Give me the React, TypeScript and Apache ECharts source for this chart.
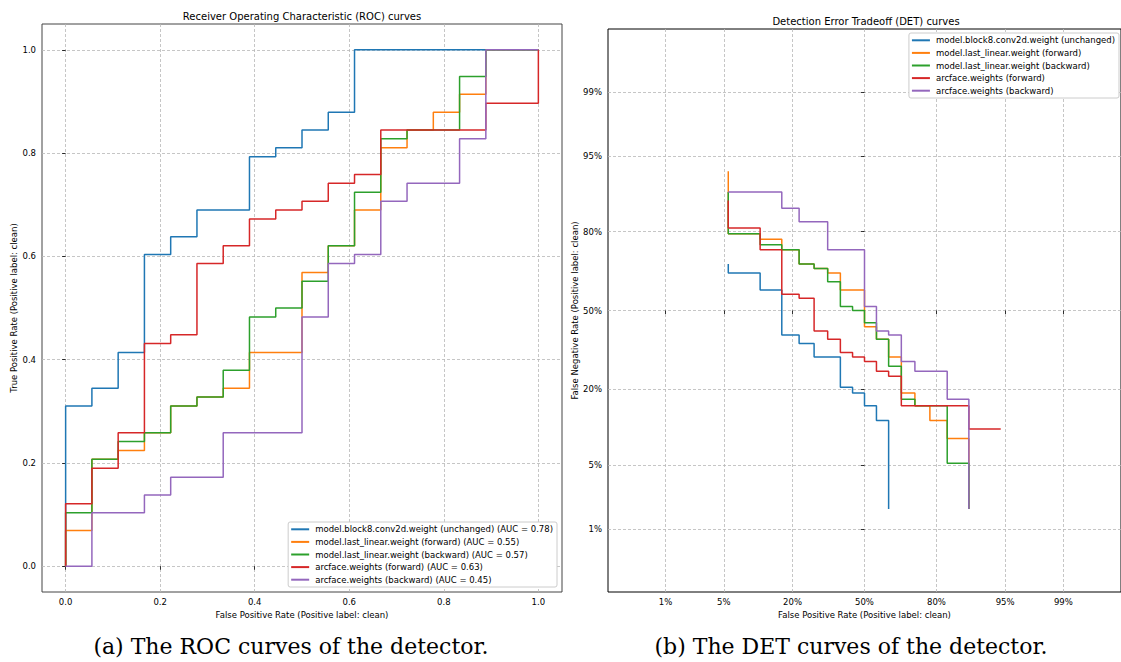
import React, { useEffect, useRef } from "react";
import * as echarts from "echarts";

// ---------- data ----------
// 18 negatives (clean = positive label count 58). Each array holds, for every
// false-positive count k = 0..18, the number of true positives reached at that FPR.
const N_NEG = 18;
const N_POS = 58;

const SERIES_NAMES = [
  "model.block8.conv2d.weight (unchanged)",
  "model.last_linear.weight (forward)",
  "model.last_linear.weight (backward)",
  "arcface.weights (forward)",
  "arcface.weights (backward)",
];
const AUC_VALUES = ["0.78", "0.55", "0.57", "0.63", "0.45"];
const COLORS = ["#1f77b4", "#ff7f0e", "#2ca02c", "#d62728", "#9467bd"];

const tpBlock8Unchanged = [18, 20, 24, 35, 37, 40, 40, 46, 47, 49, 51, 58, 58, 58, 58, 58, 58, 58, 58];
const tpLastLinearForward = [4, 12, 13, 15, 18, 19, 20, 24, 24, 33, 36, 40, 47, 49, 51, 53, 58, 58, 58];
const tpLastLinearBackward = [6, 12, 14, 15, 18, 19, 22, 28, 29, 32, 36, 42, 48, 49, 49, 55, 58, 58, 58];
const tpArcfaceForward = [7, 11, 15, 25, 26, 34, 36, 39, 40, 41, 43, 44, 49, 49, 49, 49, 52, 52, 58];
const tpArcfaceBackward = [0, 6, 6, 8, 10, 10, 15, 15, 15, 28, 34, 35, 41, 43, 43, 48, 58, 58, 58];

const TP_LEVELS = [
  tpBlock8Unchanged,
  tpLastLinearForward,
  tpLastLinearBackward,
  tpArcfaceForward,
  tpArcfaceBackward,
];

const ROC_TICKS = [0, 0.2, 0.4, 0.6, 0.8, 1.0];
const DET_TICKS = [0.01, 0.05, 0.2, 0.5, 0.8, 0.95, 0.99];
const DET_TICK_LABELS = ["1%", "5%", "20%", "50%", "80%", "95%", "99%"];

// ---------- helpers ----------
function probit(p: number): number {
  const a = [-3.969683028665376e1, 2.209460984245205e2, -2.759285104469687e2, 1.38357751867269e2, -3.066479806614716e1, 2.506628277459239];
  const b = [-5.447609879822406e1, 1.615858368580409e2, -1.556989798598866e2, 6.680131188771972e1, -1.328068155288572e1];
  const c = [-7.784894002430293e-3, -3.223964580411365e-1, -2.400758277161838, -2.549732539343734, 4.374664141464968, 2.938163982698783];
  const d = [7.784695709041462e-3, 3.224671290700398e-1, 2.445134137142996, 3.754408661907416];
  const pl = 0.02425;
  const ph = 1 - pl;
  if (p < pl) {
    const q = Math.sqrt(-2 * Math.log(p));
    return (((((c[0] * q + c[1]) * q + c[2]) * q + c[3]) * q + c[4]) * q + c[5]) / ((((d[0] * q + d[1]) * q + d[2]) * q + d[3]) * q + 1);
  }
  if (p <= ph) {
    const q = p - 0.5;
    const r = q * q;
    return ((((((a[0] * r + a[1]) * r + a[2]) * r + a[3]) * r + a[4]) * r + a[5]) * q) / (((((b[0] * r + b[1]) * r + b[2]) * r + b[3]) * r + b[4]) * r + 1);
  }
  const q = Math.sqrt(-2 * Math.log(1 - p));
  return -(((((c[0] * q + c[1]) * q + c[2]) * q + c[3]) * q + c[4]) * q + c[5]) / ((((d[0] * q + d[1]) * q + d[2]) * q + d[3]) * q + 1);
}

function rocPoints(levels: number[]): number[][] {
  const pts: number[][] = [[0, 0]];
  levels.forEach((lv, k) => {
    pts.push([k / N_NEG, lv / N_POS]);
    if (k < N_NEG) pts.push([(k + 1) / N_NEG, lv / N_POS]);
  });
  return pts;
}

// DET: FNR = 1 - TPR on probit axes; points at FPR = 0 / FNR = 1 are off-scale,
// the curve ends at the last finite point.
function detPoints(levels: number[]): number[][] {
  const pts: number[][] = [];
  for (let k = 1; k < N_NEG; k++) {
    for (const lv of [levels[k - 1], levels[k]]) {
      if (lv === 0) continue;
      const fn = Math.max(N_POS - lv, 1);
      pts.push([probit(k / N_NEG), probit(fn / N_POS)]);
      if (lv >= N_POS) return pts;
    }
  }
  return pts;
}

const FONT = "DejaVu Sans";

export default function App() {
  const ref = useRef<HTMLDivElement>(null);

  useEffect(() => {
    if (!ref.current) return;
    const chart = echarts.init(ref.current, null, { renderer: "svg" });

    const gridLine = { show: true, lineStyle: { color: "#b8b8b8", type: [3, 2] as any, width: 0.8 } };
    const tick = { show: true, inside: false, length: 3.5, lineStyle: { color: "#000", width: 0.8 } };
    const label = { fontSize: 8.5, fontFamily: FONT, color: "#000" };
    const nameStyle = { fontSize: 8.5, fontFamily: FONT, color: "#000" };

    const detTickVals = DET_TICKS.map(probit);
    const detFormatter = (v: number) => {
      let best = 0;
      detTickVals.forEach((t, i) => {
        if (Math.abs(t - v) < Math.abs(detTickVals[best] - v)) best = i;
      });
      return DET_TICK_LABELS[best];
    };

    const rocNames = SERIES_NAMES.map((n, i) => `${n} (AUC = ${AUC_VALUES[i]})`);

    const series: any[] = [];
    TP_LEVELS.forEach((lv, i) => {
      series.push({
        name: rocNames[i],
        type: "line",
        xAxisIndex: 0,
        yAxisIndex: 0,
        data: rocPoints(lv),
        symbol: "none",
        color: COLORS[i],
        lineStyle: { color: COLORS[i], width: 1.5 },
        z: 2 + i,
        silent: true,
      });
    });
    TP_LEVELS.forEach((lv, i) => {
      series.push({
        name: SERIES_NAMES[i],
        type: "line",
        xAxisIndex: 1,
        yAxisIndex: 1,
        data: detPoints(lv),
        symbol: "none",
        color: COLORS[i],
        lineStyle: { color: COLORS[i], width: 1.5 },
        z: 2 + i,
        silent: true,
      });
    });

    const legendBase = {
      orient: "vertical",
      padding: [2, 4, 2, 3],
      itemWidth: 18,
      itemHeight: 2,
      itemGap: 2,
      icon: "rect",
      selectedMode: false,
      textStyle: { fontSize: 8.5, fontFamily: FONT, color: "#000", lineHeight: 10.6, padding: [0, 0, 0, 1] },
      borderColor: "#cccccc",
      borderWidth: 1,
      borderRadius: 2,
      backgroundColor: "#ffffff",
    };

    const textEl = (x: number, y: number, text: string, font: string, rot = 0) => ({
      type: "text",
      x,
      y,
      rotation: rot,
      silent: true,
      style: {
        text,
        font,
        fill: "#000",
        align: "center",
        verticalAlign: "middle",
        textAlign: "center",
        textVerticalAlign: "middle",
      },
    });

    chart.setOption({
      animation: false,
      grid: [
        { left: 42, top: 24, width: 520, height: 568, show: true, borderColor: "#444", borderWidth: 1, backgroundColor: "transparent", z: 0 },
        { left: 608, top: 29, width: 516, height: 563, show: true, borderColor: "#000", borderWidth: 1, backgroundColor: "transparent", z: 0 },
      ],
      xAxis: [
        {
          type: "value",
          gridIndex: 0,
          min: -0.05,
          max: 1.05,
          axisLine: { show: false },
          axisTick: { ...tick, customValues: ROC_TICKS },
          axisLabel: { ...label, margin: 5, customValues: ROC_TICKS, formatter: (v: number) => v.toFixed(1) },
          splitLine: gridLine,
          name: "False Positive Rate (Positive label: clean)",
          nameLocation: "middle",
          nameGap: 16,
          nameTextStyle: nameStyle,
        },
        {
          type: "value",
          gridIndex: 1,
          min: -3,
          max: 3,
          axisLine: { show: false },
          axisTick: { ...tick, customValues: detTickVals },
          axisLabel: { ...label, margin: 5, customValues: detTickVals, formatter: detFormatter },
          splitLine: gridLine,
          name: "False Positive Rate (Positive label: clean)",
          nameLocation: "middle",
          nameGap: 16,
          nameTextStyle: nameStyle,
        },
      ],
      yAxis: [
        {
          type: "value",
          gridIndex: 0,
          min: -0.05,
          max: 1.05,
          axisLine: { show: false },
          axisTick: { ...tick, customValues: ROC_TICKS },
          axisLabel: { ...label, margin: 6, customValues: ROC_TICKS, formatter: (v: number) => v.toFixed(1) },
          splitLine: gridLine,
          name: "True Positive Rate (Positive label: clean)",
          nameLocation: "middle",
          nameGap: 22,
          nameTextStyle: nameStyle,
        },
        {
          type: "value",
          gridIndex: 1,
          min: -3,
          max: 3,
          axisLine: { show: false },
          axisTick: { ...tick, customValues: detTickVals },
          axisLabel: { ...label, margin: 6, customValues: detTickVals, formatter: detFormatter },
          splitLine: gridLine,
          name: "False Negative Rate (Positive label: clean)",
          nameLocation: "middle",
          nameGap: 28,
          nameTextStyle: nameStyle,
        },
      ],
      legend: [
        { ...legendBase, data: rocNames, right: 564, top: 522 },
        { ...legendBase, data: SERIES_NAMES, right: 2, top: 33 },
      ],
      graphic: [
        textEl(302, 16, "Receiver Operating Characteristic (ROC) curves", `10px "${FONT}"`),
        textEl(866, 21, "Detection Error Tradeoff (DET) curves", `10px "${FONT}"`),
        textEl(291, 646, "(a) The ROC curves of the detector.", `22px "DejaVu Serif"`),
        textEl(851, 646, "(b) The DET curves of the detector.", `22px "DejaVu Serif"`),
      ],
      series,
    });

    return () => chart.dispose();
  }, []);

  return (
    <div
      ref={ref}
      style={{ position: "absolute", left: 0, top: 0, width: 1121, height: 662, background: "#fff", overflow: "hidden" }}
    />
  );
}
